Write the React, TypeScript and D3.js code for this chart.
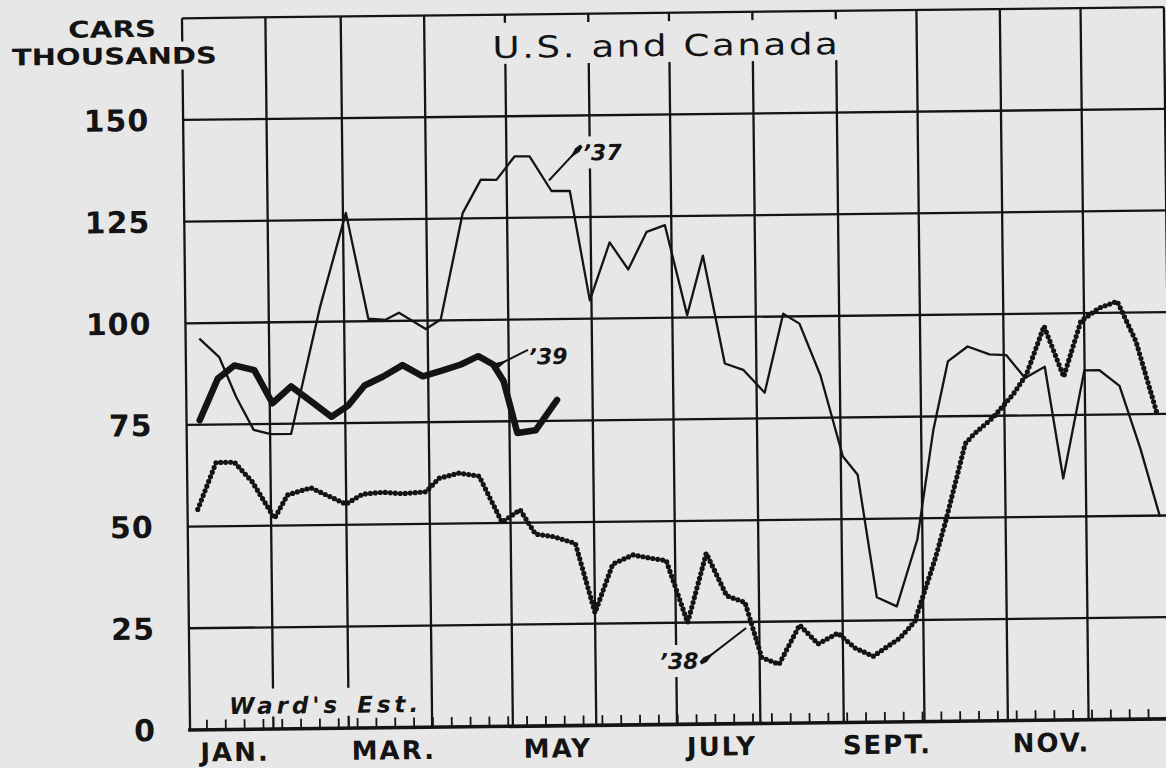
import * as d3 from "d3";

// Weekly car production, thousands (U.S. and Canada).
// x = day of year, y = cars (thousands)
const days37 = [5.1, 12.4, 18.5, 24.9, 31.3, 38.8, 50.0, 60.1, 68.0, 74.4, 79.4, 89.3, 94.9, 103.5, 110.4, 116.2, 123.0, 128.6, 136.6, 143.4, 150.4, 158.0, 164.8, 171.8, 178.6, 186.5, 192.6, 200.3, 207.1, 215.0, 222.2, 228.2, 235.8, 243.8, 249.2, 255.8, 263.2, 271.1, 277.5, 283.2, 290.6, 298.7, 304.9, 311.8, 319.2, 325.6, 333.9, 339.5, 346.9, 354.4, 361.4];
const cars37 = [96.2, 91.6, 81.8, 73.6, 72.5, 72.5, 103.4, 126.7, 100.6, 100.3, 102, 97.9, 100.2, 126.3, 134.5, 134.4, 140.1, 140.1, 131.5, 131.5, 104.5, 118.7, 112, 121.2, 122.8, 100.6, 115.2, 88.6, 87, 81.3, 100.7, 98.2, 85.4, 65.4, 60.9, 30.7, 28.4, 44.8, 71.6, 88.5, 92.1, 90.1, 89.9, 84.2, 86.9, 59.4, 85.9, 85.9, 82, 66.5, 49.7];

const days38 = [3.8, 10.8, 17.6, 24.2, 32.3, 37.2, 45.9, 58.9, 65.1, 72.6, 80.0, 88.7, 93.6, 101.0, 108.5, 116.8, 123.6, 129.2, 136.0, 144.0, 151.0, 157.8, 165.3, 171.5, 177.7, 185.4, 192.6, 200.0, 206.8, 212.8, 219.2, 227.0, 233.8, 241.2, 247.5, 254.2, 264.2, 269.8, 277.9, 281.8, 289.3, 292.5, 299.8, 307.3, 312.3, 319.1, 326.2, 332.8, 339.6, 346.4, 353.2, 360.6];
const cars38 = [54.2, 65.7, 65.7, 60.8, 51.8, 57.5, 59.2, 55.1, 57.5, 57.9, 57.5, 57.9, 61.2, 62.4, 61.6, 50.2, 53.2, 47.2, 46.5, 44.8, 27.7, 39.6, 41.8, 41, 40.3, 25, 42, 31.5, 29.8, 16.2, 14.5, 24.1, 19.4, 22, 18.3, 16.2, 20.6, 24.6, 40.5, 49.4, 68.2, 70.5, 74.6, 80.2, 85, 96.9, 84.4, 98, 101.2, 102.8, 92.9, 75.4];

const days39 = [4.9, 11.8, 18.0, 25.4, 32.0, 39.0, 46.5, 53.9, 60.1, 66.3, 73.1, 80.5, 88.0, 95.4, 102.2, 108.7, 114.2, 118.0, 122.9, 129.7, 137.8];
const cars39 = [76.1, 86.3, 89.5, 88.3, 80.1, 84.2, 80.4, 76.6, 79.3, 84.2, 86.3, 89.1, 86.3, 87.7, 89.1, 91.1, 89, 84.9, 72.1, 72.7, 80.1];

const yTicks = [0, 25, 50, 75, 100, 125, 150];
const monthStarts = [0, 31, 59, 90, 120, 151, 181, 212, 243, 273, 304, 334, 365];
const monthNames = ["JAN.", "", "MAR.", "", "MAY", "", "JULY", "", "SEPT.", "", "NOV.", ""];

// year labels: text spot and leader (thick end first), in day / value units
const yearNotes = [
  { text: "\u201937", day: 155.6, val: 140.9, thick: [147.4, 142.2], thin: [135.7, 134.1] },
  { text: "\u201939", day: 134.6, val: 90.9, thick: [114.5, 88.4], thin: [127.2, 92.5] },
  { text: "\u201938", day: 182.0, val: 15.6, thick: [190.6, 15.3], thin: [207.1, 23.5] },
];

const BG = "#e7e7e7";
const INK = "#141414";
const FONT = "'DejaVu Sans', sans-serif";

function Leader({ p0, p1 }: { p0: [number, number]; p1: [number, number] }) {
  const dx = p1[0] - p0[0], dy = p1[1] - p0[1];
  const len = Math.hypot(dx, dy);
  const ux = dx / len, uy = dy / len;
  const nx = -uy, ny = ux;
  const tip = 15;
  const w = 2.8;
  const pts = [
    [p0[0] - ux * 2 + nx * w * 0.6, p0[1] - uy * 2 + ny * w * 0.6],
    [p0[0] + ux * 4 + nx * w, p0[1] + uy * 4 + ny * w],
    [p0[0] + ux * tip, p0[1] + uy * tip],
    [p0[0] + ux * 4 - nx * w, p0[1] + uy * 4 - ny * w],
    [p0[0] - ux * 2 - nx * w * 0.6, p0[1] - uy * 2 - ny * w * 0.6],
  ];
  return (
    <g>
      <line x1={p0[0]} y1={p0[1]} x2={p1[0]} y2={p1[1]} stroke={INK} strokeWidth={2} />
      <polygon points={pts.map((p) => p.join(",")).join(" ")} fill={INK} />
    </g>
  );
}

export default function App() {
  const width = 1166;
  const height = 768;

  const x = d3.scaleLinear().domain([0, 365]).range([186, 1168]);
  const y = d3.scaleLinear().domain([0, 175]).range([724.4, 12.7]);

  const line = d3
    .line<[number, number]>()
    .x((d) => x(d[0]))
    .y((d) => y(d[1]));

  const s37 = d3.zip(days37, cars37) as [number, number][];
  const s38 = d3.zip(days38, cars38) as [number, number][];
  const s39 = d3.zip(days39, cars39) as [number, number][];

  const weekTicks = d3.range(1, 53).map((k) => 7 * k - 0.7);

  return (
    <div style={{ position: "fixed", left: 0, top: 0 }}>
      <svg width={width} height={height} style={{ display: "block" }} fontFamily={FONT}>
        <rect width={width} height={height} fill={BG} />
        <g transform="rotate(-0.65 676 370)">
          {/* horizontal grid + top border */}
          {[...yTicks.filter((t) => t > 0), 175].map((t) => (
            <line key={"h" + t} x1={x(0)} x2={x(365)} y1={y(t)} y2={y(t)} stroke={INK} strokeWidth={2.3} />
          ))}
          {/* month grid lines */}
          {monthStarts.map((d) => (
            <line key={"v" + d} x1={x(d)} x2={x(d)} y1={y(0)} y2={y(175)} stroke={INK} strokeWidth={2.3} />
          ))}
          {/* base line and weekly ticks */}
          <line x1={x(0) - 2} x2={x(365)} y1={y(0)} y2={y(0)} stroke={INK} strokeWidth={3.6} />
          {weekTicks.map((d) => (
            <line key={"w" + d} x1={x(d)} x2={x(d)} y1={y(0)} y2={y(0) - 10} stroke={INK} strokeWidth={1.8} />
          ))}

          {/* paper patches behind lettering */}
          <rect x={484} y={21} width={368} height={41} fill={BG} />
          <rect x={10} y={36} width={222} height={28} fill={BG} />
          <rect x={222} y={684} width={198} height={28} fill={BG} />
          {yearNotes.map((n) => (
            <rect key={"bg" + n.text} x={x(n.day) - 23} y={y(n.val) - 16} width={46} height={32} fill={BG} />
          ))}

          {/* y labels */}
          {yTicks.map((t) => (
            <text key={"yl" + t} x={152} y={y(t)} dy="0.36em" textAnchor="end" fontSize={30} fontWeight="bold" letterSpacing={1} fill={INK}>
              {t}
            </text>
          ))}
          <text x={116} y={31} textAnchor="middle" fontSize={23} fontWeight="bold" textLength={88} lengthAdjust="spacingAndGlyphs" fill={INK}>CARS</text>
          <text x={118} y={58} textAnchor="middle" fontSize={23} fontWeight="bold" textLength={205} lengthAdjust="spacingAndGlyphs" fill={INK}>THOUSANDS</text>

          <text x={670} y={56} textAnchor="middle" fontSize={30} letterSpacing={2} textLength={348} lengthAdjust="spacingAndGlyphs" fill={INK}>U.S. and Canada</text>

          {/* month labels */}
          {monthNames.map((m, i) =>
            m ? (
              <text key={"m" + i} x={x((monthStarts[i] + monthStarts[i + 1]) / 2) + 3} y={756} textAnchor="middle" fontSize={26} fontWeight="bold" letterSpacing={2} fill={INK}>
                {m}
              </text>
            ) : null
          )}

          <text x={322} y={709} textAnchor="middle" fontSize={23} fontStyle="italic" fontWeight="bold" letterSpacing={4} wordSpacing={4} fill={INK}>
            Ward's Est.
          </text>

          {/* series */}
          <path d={line(s37) ?? ""} fill="none" stroke={INK} strokeWidth={2.3} strokeLinejoin="round" />
          <path d={line(s38) ?? ""} fill="none" stroke={INK} strokeWidth={5.2} strokeDasharray="0 5" strokeLinecap="round" strokeLinejoin="round" />
          <path d={line(s39) ?? ""} fill="none" stroke={INK} strokeWidth={6.5} strokeLinejoin="round" strokeLinecap="round" />

          {/* year notes */}
          {yearNotes.map((n) => (
            <g key={"n" + n.text}>
              <Leader p0={[x(n.thick[0]), y(n.thick[1])]} p1={[x(n.thin[0]), y(n.thin[1])]} />
              <text x={x(n.day)} y={y(n.val)} dy="0.36em" textAnchor="middle" fontSize={22} fontStyle="italic" fontWeight="bold" fill={INK}>
                {n.text}
              </text>
            </g>
          ))}
        </g>
      </svg>
    </div>
  );
}
